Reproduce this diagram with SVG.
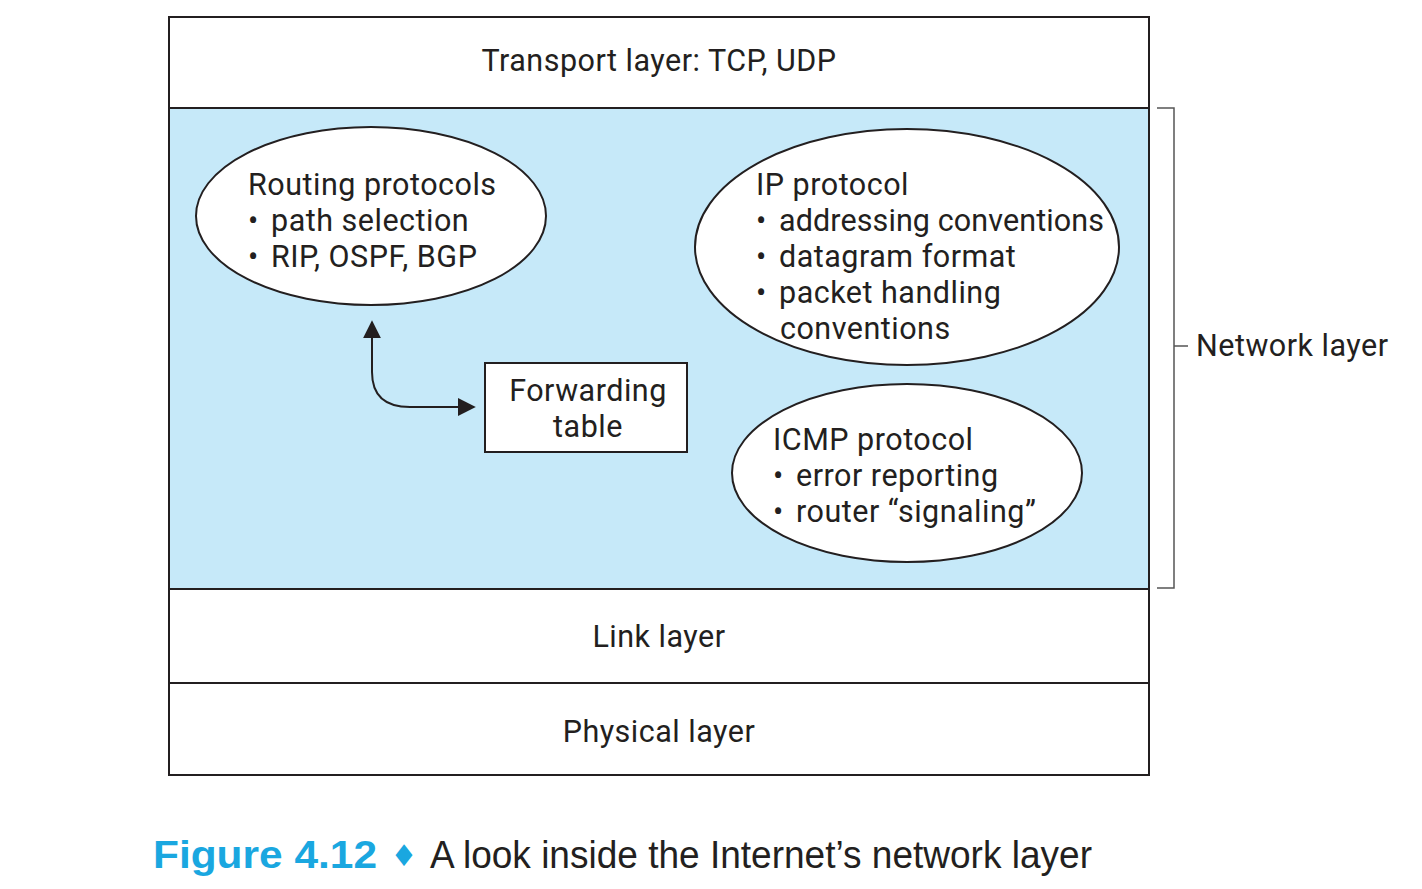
<svg xmlns="http://www.w3.org/2000/svg" width="1422" height="889" viewBox="0 0 1422 889">
<style>
.t{font-family:Roboto,"Liberation Sans",sans-serif;font-size:30.5px;letter-spacing:0.5px;fill:#231f20}
.m{text-anchor:middle}
.box{fill:#fff;stroke:#231f20;stroke-width:2}
.ell{fill:#fff;stroke:#231f20;stroke-width:2}
.ln{fill:none;stroke:#231f20;stroke-width:2}
</style>
<defs>
<marker id="ah" viewBox="0 0 10 10" refX="9" refY="5" markerWidth="18" markerHeight="18" markerUnits="userSpaceOnUse" orient="auto-start-reverse">
<path d="M0,0 L10,5 L0,10 z" fill="#231f20"/>
</marker>
</defs>
<rect width="1422" height="889" fill="#fff"/>
<g id="transport">
<rect class="box" x="169" y="17" width="980" height="91"/>
<text class="t m" x="659" y="71">Transport layer: TCP, UDP</text>
</g>
<g id="network">
<rect x="169" y="108" width="980" height="481" fill="#c6e9f9" stroke="#231f20" stroke-width="2"/>
</g>
<g id="link">
<rect class="box" x="169" y="589" width="980" height="94"/>
<text class="t m" x="659" y="647">Link layer</text>
</g>
<g id="physical">
<rect class="box" x="169" y="683" width="980" height="92"/>
<text class="t m" x="659" y="742">Physical layer</text>
</g>
<g id="routing">
<ellipse class="ell" cx="371" cy="216" rx="175" ry="89"/>
<text class="t" x="248" y="195">Routing protocols</text>
<text class="t" x="248" y="231">•<tspan x="271">path selection</tspan></text>
<text class="t" x="248" y="267">•<tspan x="271">RIP, OSPF, BGP</tspan></text>
</g>
<g id="ip">
<ellipse class="ell" cx="907" cy="247" rx="212" ry="118"/>
<text class="t" x="756" y="195">IP protocol</text>
<text class="t" x="756" y="231" style="letter-spacing:0.1px">•<tspan x="779">addressing conventions</tspan></text>
<text class="t" x="756" y="267">•<tspan x="779">datagram format</tspan></text>
<text class="t" x="756" y="303">•<tspan x="779">packet handling</tspan></text>
<text class="t" x="780" y="339">conventions</text>
</g>
<g id="icmp">
<ellipse class="ell" cx="907" cy="473" rx="175" ry="89"/>
<text class="t" x="773" y="450">ICMP protocol</text>
<text class="t" x="773" y="486">•<tspan x="796">error reporting</tspan></text>
<text class="t" x="773" y="522">•<tspan x="796">router “signaling”</tspan></text>
</g>
<g id="forwarding">
<rect class="box" x="485" y="363" width="202" height="89"/>
<text class="t m" x="588" y="401">Forwarding</text>
<text class="t m" x="588" y="437">table</text>
</g>
<g id="connectors">
<path class="ln" d="M372,322 L372,372 Q372,407 410,407 L474,407" marker-start="url(#ah)" marker-end="url(#ah)"/>
<path d="M1157,108 H1174 V588 H1157 M1174,346 H1188" fill="none" stroke="#555" stroke-width="1.5"/>
</g>
<g id="network-label">
<text class="t" x="1196" y="356">Network layer</text>
</g>
<g id="caption">
<text x="153" y="868" font-family="'Liberation Sans',sans-serif" font-weight="bold" font-size="38" fill="#1aa7e0" textLength="224" lengthAdjust="spacingAndGlyphs">Figure 4.12</text>
<text x="404" y="866" font-family="'DejaVu Sans',sans-serif" font-size="30" fill="#1aa7e0" text-anchor="middle">♦</text>
<text x="430" y="868" font-family="'Liberation Sans',sans-serif" font-size="38" fill="#231f20" textLength="662" lengthAdjust="spacingAndGlyphs">A look inside the Internet’s network layer</text>
</g>
</svg>
